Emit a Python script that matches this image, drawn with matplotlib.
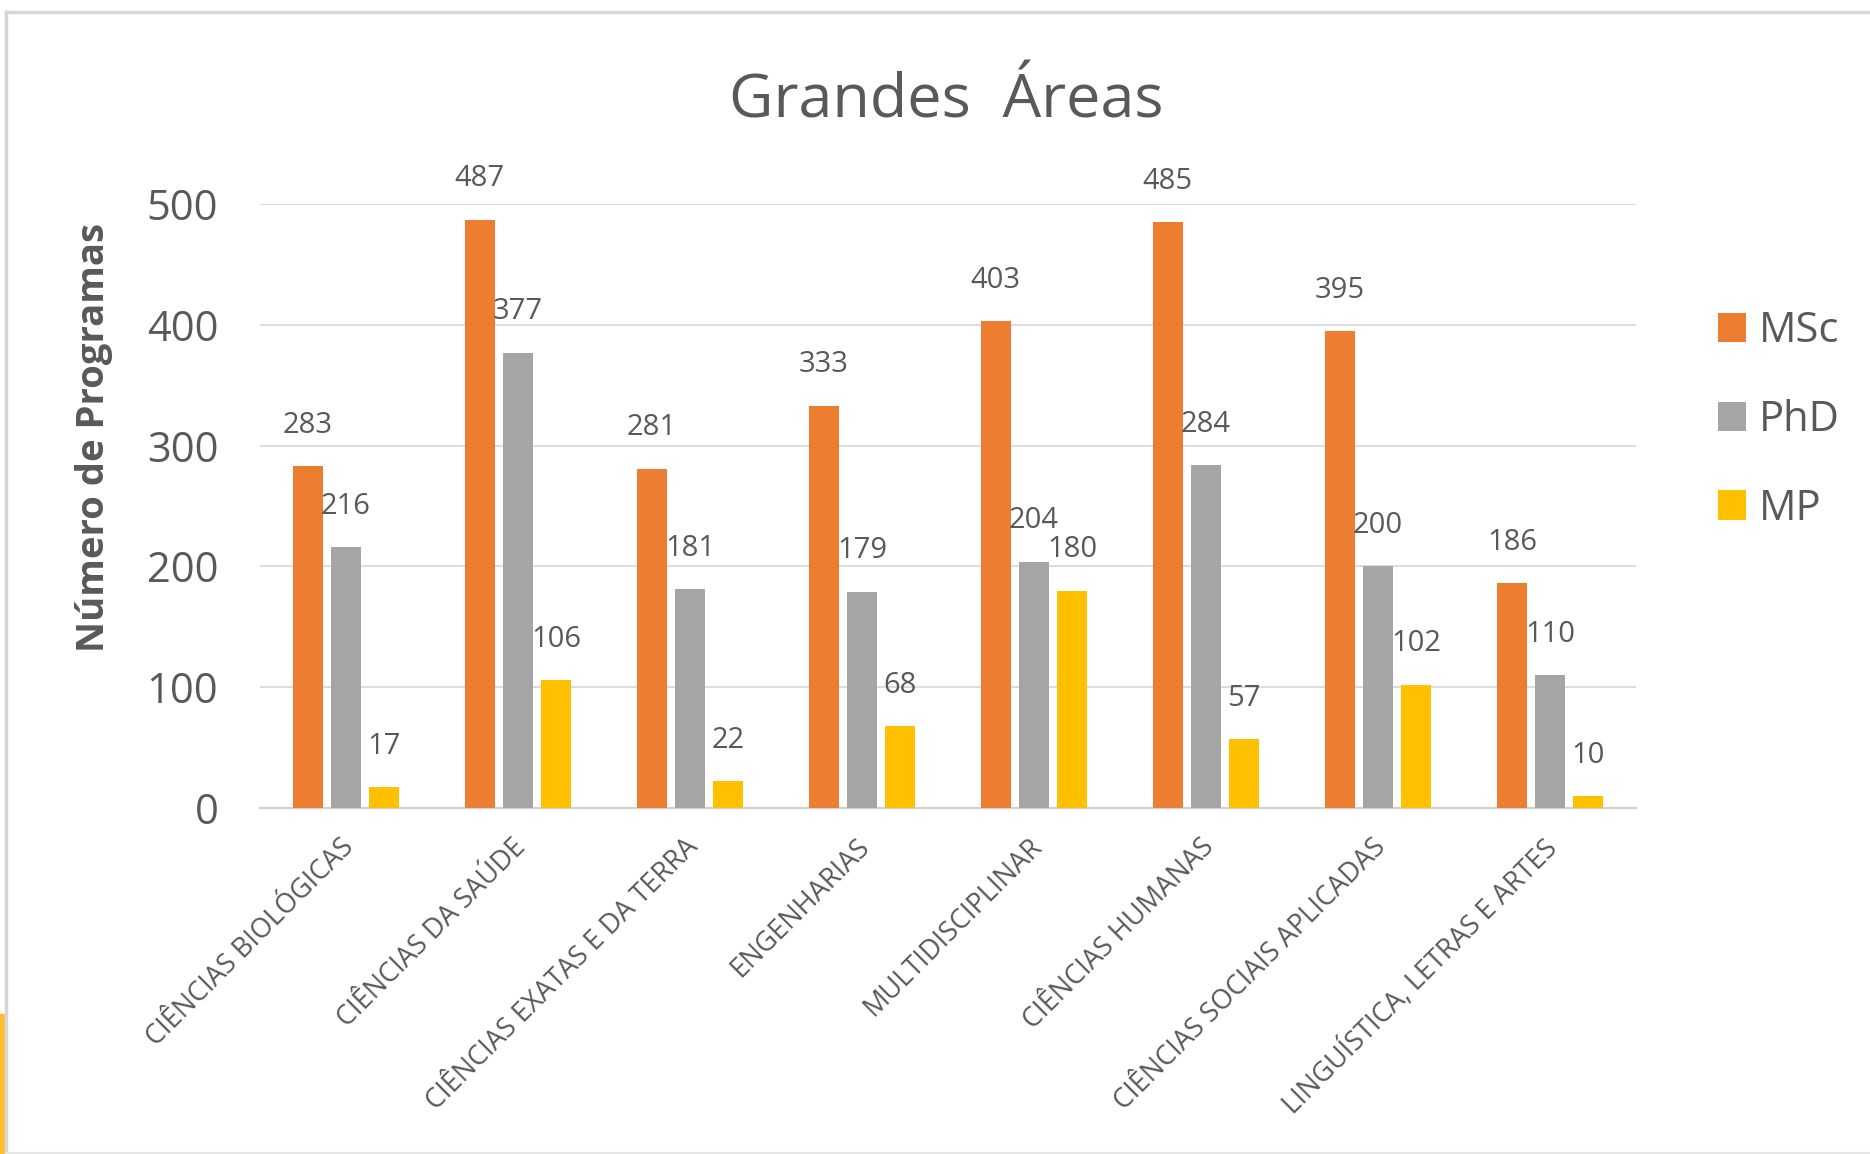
import numpy as np
import matplotlib.pyplot as plt
import matplotlib.transforms as mtransforms
from matplotlib.lines import Line2D
from matplotlib.patches import Rectangle

categories = ['CIÊNCIAS BIOLÓGICAS', 'CIÊNCIAS DA SAÚDE', 'CIÊNCIAS EXATAS E DA TERRA',
              'ENGENHARIAS', 'MULTIDISCIPLINAR', 'CIÊNCIAS HUMANAS',
              'CIÊNCIAS SOCIAIS APLICADAS', 'LINGUÍSTICA, LETRAS E ARTES']
msc = [283, 487, 281, 333, 403, 485, 395, 186]
phd = [216, 377, 181, 179, 204, 284, 200, 110]
mp = [17, 106, 22, 68, 180, 57, 102, 10]

series_names = ['MSc', 'PhD', 'MP']
series_colors = ['#ED7D31', '#A5A5A5', '#FFC000']
text_color = '#595959'

plt.rcParams['font.family'] = ['Open Sans', 'DejaVu Sans']

fig = plt.figure(figsize=(18.7, 11.54), dpi=100)
ax = fig.add_axes([260 / 1870, 1 - 808 / 1154, 1376 / 1870, 604 / 1154])

x = np.arange(len(categories))
width = 0.174
step = 0.222
handles = []
for i, (vals, name, color) in enumerate(zip([msc, phd, mp], series_names, series_colors)):
    pos = x + (i - 1) * step
    bars = ax.bar(pos, vals, width, color=color, label=name, zorder=3)
    handles.append(bars)
    for p, v in zip(pos, vals):
        ax.annotate(str(v), (p, v), xytext=(0, 24), textcoords='offset points',
                    ha='center', va='baseline', fontsize=21, color=text_color,
                    annotation_clip=False, zorder=4)

ax.set_xlim(-0.5, len(categories) - 0.5)
ax.set_ylim(0, 500)
ax.set_yticks([0, 100, 200, 300, 400, 500])
ax.grid(axis='y', color='#D9D9D9', linewidth=1.3, zorder=0)
for s in ['top', 'right', 'left']:
    ax.spines[s].set_visible(False)
ax.spines['bottom'].set_color('#D0D0D0')
ax.spines['bottom'].set_linewidth(1.6)
ax.tick_params(axis='y', length=0, pad=30, labelsize=30, labelcolor=text_color)
ax.tick_params(axis='x', length=0, pad=18, labelsize=19.5, labelcolor=text_color)
ax.set_xticks(x)
ax.set_xticklabels(categories, rotation=45, ha='right', va='top')
shift = mtransforms.ScaledTranslation(10 / 72, 0, fig.dpi_scale_trans)
for lbl in ax.get_xticklabels():
    lbl.set_transform(lbl.get_transform() + shift)

ax.set_ylabel('Número de Programas', fontsize=27.5, fontweight='bold', color=text_color, va='center')
ax.yaxis.set_label_coords(-0.121, 0.613)

fig.text(946 / 1870, 1 - 101 / 1154, 'Grandes  Áreas', fontsize=44, color=text_color,
         ha='center', va='center')

ax.legend(handles, series_names, loc='center left', bbox_to_anchor=(1718 / 1870, 1 - 420 / 1154),
          bbox_transform=fig.transFigure, frameon=False, fontsize=30, labelcolor=text_color,
          handlelength=0.68, handleheight=0.7, handletextpad=0.3, labelspacing=1.12,
          borderpad=0, borderaxespad=0)

# frame of the screenshot
fig.add_artist(Line2D([6 / 1870, 6 / 1870], [0, 1 - 12 / 1154], color='#D6D6D6', lw=2.5,
                      transform=fig.transFigure))
fig.add_artist(Line2D([6 / 1870, 1], [1 - 12 / 1154, 1 - 12 / 1154], color='#D6D6D6', lw=2.5,
                      transform=fig.transFigure))
fig.add_artist(Line2D([6 / 1870, 1], [1.5 / 1154, 1.5 / 1154], color='#E6E6E6', lw=1.5,
                      transform=fig.transFigure))
fig.add_artist(Rectangle((0, 0), 4 / 1870, 140 / 1154, color='#FBC02D',
                         transform=fig.transFigure))

fig.savefig('out.png', dpi=100)
